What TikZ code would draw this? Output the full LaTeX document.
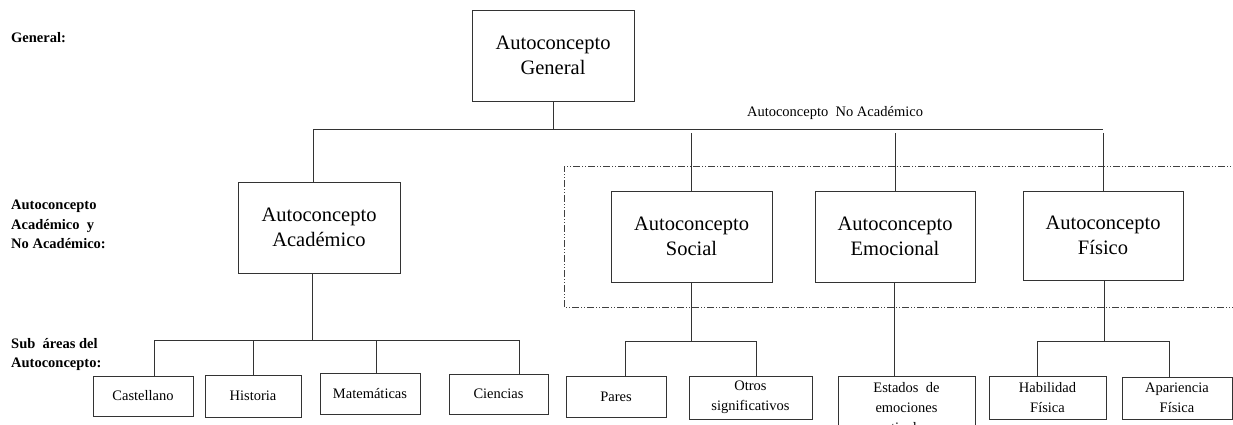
\documentclass[tikz,border=0pt]{standalone}
\usepackage{fontspec}
\setmainfont{Liberation Serif}
\begin{document}
\begin{tikzpicture}[x=1pt,y=-1pt,
  ln/.style={line width=1pt,draw=black!80},
  bigbox/.style={ln,draw,minimum width=162pt,minimum height=91pt,inner sep=0pt,align=center,
     font=\fontsize{20.5}{24.5}\selectfont},
  smallbox/.style={ln,draw,inner sep=1pt,align=center,font=\fontsize{14.5}{20}\selectfont},
  lbl/.style={align=left,inner sep=0pt,font=\fontsize{14.5}{19.5}\selectfont\bfseries},
  ddot/.style={line width=0.9pt,draw=black!75,dash pattern=on 7pt off 2pt on 1pt off 2pt on 1pt off 2pt}]
\useasboundingbox (0,0) rectangle (1233,424);
\clip (0,0) rectangle (1233,424);
% left labels
\node[lbl,anchor=west] (lg) at (11,38) {General:};
\node[lbl,anchor=north west] (lak) at (11,200) {Autoconcepto\\Académico\ \ y\\No Académico:};
\node[lbl,anchor=north west] (lsa) at (11,338) {Sub\ \ áreas del\\Autoconcepto:};
% dash-dot region
\draw[ddot] (1240,166) -- (564,166) -- (564,307) -- (1240,307);
% main boxes
\node[bigbox] (gen) at (553,55.5) {Autoconcepto\\General};
\node[bigbox] (acad) at (319,227.5) {Autoconcepto\\Académico};
\node[bigbox,minimum width=161pt] (soc) at (691.5,236.5) {Autoconcepto\\Social};
\node[bigbox,minimum width=160pt] (emo) at (895,236.5) {Autoconcepto\\Emocional};
\node[bigbox,minimum width=160pt,minimum height=89pt] (fis) at (1103,235.5) {Autoconcepto\\Físico};
\node[inner sep=0pt,font=\fontsize{14.5}{18}\selectfont] (nolab) at (835,113) {Autoconcepto\ \ No Académico};
% sub boxes
\node[smallbox,minimum width=100pt,minimum height=40pt] (cas) at (143,396) {Castellano};
\node[smallbox,minimum width=96pt,minimum height=42pt] (his) at (253,396) {Historia};
\node[smallbox,minimum width=100pt,minimum height=41pt] (mat) at (370,393.5) {Matemáticas};
\node[smallbox,minimum width=99pt,minimum height=40pt] (cie) at (498.5,394) {Ciencias};
\node[smallbox,minimum width=100pt,minimum height=41pt] (par) at (616,396.5) {Pares};
\node[smallbox,minimum width=123pt,minimum height=43pt] (otr) at (750.5,397.5) {Otros\\significativos};
\node[smallbox,minimum width=137pt,minimum height=66pt,anchor=north] (est) at (906.5,376) {Estados\ \ de\\emociones\\particulares};
\node[smallbox,minimum width=117pt,minimum height=43pt] (hab) at (1047.5,397.5) {Habilidad\\Física};
\node[smallbox,minimum width=110pt,minimum height=42pt] (apa) at (1177,398) {Apariencia\\Física};
% bus coordinates
\coordinate (busL) at (313,129);
\coordinate (busR) at (1103,129);
\coordinate (gap) at (0,133);
\coordinate (ba) at (0,340);
\coordinate (bs) at (0,341);
% top connectors
\draw[ln] (gen.south) -- (gen.south |- busL);
\draw[ln] (busL) -- (busR);
\draw[ln] (busL) -- (busL |- acad.north);
\draw[ln] (soc.north |- gap) -- (soc.north);
\draw[ln] (emo.north |- gap) -- (emo.north);
\draw[ln] (fis.north |- gap) -- (fis.north);
% academic subtree
\coordinate (ac) at (312,340);
\draw[ln] (ac |- acad.south) -- (ac);
\draw[ln] (154,340) coordinate (a1) -- (519,340) coordinate (a4);
\draw[ln] (a1) -- (a1 |- cas.north);
\draw[ln] (his.north |- ba) -- (his.north);
\draw[ln] (376,340) coordinate (a3) -- (a3 |- mat.north);
\draw[ln] (a4) -- (a4 |- cie.north);
% social subtree
\draw[ln] (soc.south) -- (soc.south |- bs);
\draw[ln] (625,341) coordinate (s1) -- (756,341) coordinate (s2);
\draw[ln] (s1) -- (s1 |- par.north);
\draw[ln] (s2) -- (s2 |- otr.north);
% emotional
\draw[ln] (emo.south -| 894,0) -- (894,376);
% physical subtree
\draw[ln] (1104,280) coordinate (f0) -- (1104,341);
\draw[ln] (1037,341) coordinate (f1) -- (1169,341) coordinate (f2);
\draw[ln] (f1) -- (f1 |- hab.north);
\draw[ln] (f2) -- (f2 |- apa.north);
\end{tikzpicture}
\end{document}
